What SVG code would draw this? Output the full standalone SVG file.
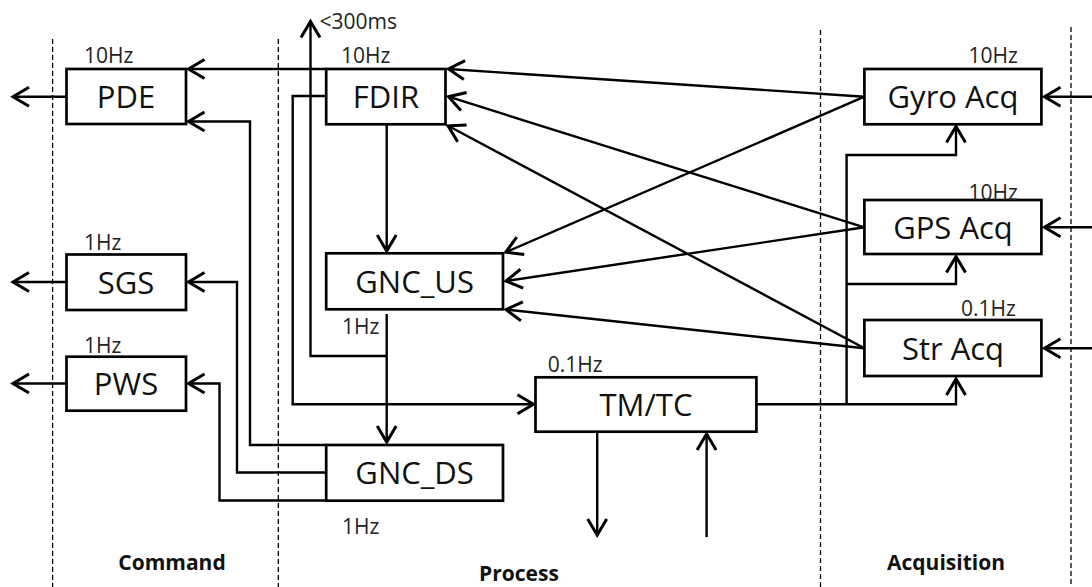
<svg xmlns="http://www.w3.org/2000/svg" width="1092" height="587" viewBox="0 0 1092 587">
<style>
.lane{stroke:#000;stroke-width:1.3;stroke-dasharray:5,3;fill:none}
.c{stroke:#000;stroke-width:2.4;fill:none}
.box{stroke:#000;stroke-width:2.7;fill:#fff}
.lbl{font-family:"Open Sans","Noto Sans","Liberation Sans",sans-serif;font-size:31px;fill:#111;text-anchor:middle}
.hz{font-family:"Open Sans","Noto Sans","Liberation Sans",sans-serif;font-size:21px;fill:#222}
.sec{font-family:"Open Sans","Noto Sans","Liberation Sans",sans-serif;font-size:21px;font-weight:bold;fill:#111;text-anchor:middle}
</style>
<defs>
<marker id="a" markerUnits="userSpaceOnUse" markerWidth="24" markerHeight="24" viewBox="-20 -12 24 24" refX="0" refY="0" orient="auto">
<path d="M-16,-9.5 L0,0 L-16,9.5" stroke="#000" stroke-width="3" fill="none" stroke-linejoin="miter"/>
</marker>
</defs>
<g id="lanes">
<line class="lane" x1="52.6" y1="39" x2="52.6" y2="587"/>
<line class="lane" x1="278.3" y1="39" x2="278.3" y2="587"/>
<line class="lane" x1="820.5" y1="30" x2="820.5" y2="587"/>
<line class="lane" x1="1071" y1="27" x2="1071" y2="587"/>
</g>
<g id="connectors">
<path class="c" d="M66.5,96.7 H13" marker-end="url(#a)"/>
<path class="c" d="M66.5,282 H13" marker-end="url(#a)"/>
<path class="c" d="M66.5,383.5 H13" marker-end="url(#a)"/>
<path class="c" d="M326,69 H188.5" marker-end="url(#a)"/>
<path class="c" d="M326,445 H250 V121.5 H188.5" marker-end="url(#a)"/>
<path class="c" d="M326,472.5 H237 V282 H188.5" marker-end="url(#a)"/>
<path class="c" d="M326,500.5 H219.5 V383.5 H188.5" marker-end="url(#a)"/>
<path class="c" d="M386.7,356 H310.5 V21.5" marker-end="url(#a)"/>
<path class="c" d="M326,96 H292.7 V404.3 H533.5" marker-end="url(#a)"/>
<path class="c" d="M386.7,124.3 V251" marker-end="url(#a)"/>
<path class="c" d="M386.7,314 V442" marker-end="url(#a)"/>
<path class="c" d="M756.4,404.3 H956 V379" marker-end="url(#a)"/>
<path class="c" d="M846.6,404.3 V155 H956 V126.5" marker-end="url(#a)"/>
<path class="c" d="M846.6,284 H956 V256.5" marker-end="url(#a)"/>
<path class="c" d="M597.2,431.7 V535" marker-end="url(#a)"/>
<path class="c" d="M706.6,537 V434" marker-end="url(#a)"/>
<path class="c" d="M1092,96.7 H1044.5" marker-end="url(#a)"/>
<path class="c" d="M1092,227.3 H1044.5" marker-end="url(#a)"/>
<path class="c" d="M1092,348.3 H1044.5" marker-end="url(#a)"/>
<path class="c" d="M864.4,96.7 L448.5,69" marker-end="url(#a)"/>
<path class="c" d="M864.4,227.3 L448.5,96.7" marker-end="url(#a)"/>
<path class="c" d="M864.4,348.3 L448,125.8" marker-end="url(#a)"/>
<path class="c" d="M864.4,96.7 L505.8,252.2" marker-end="url(#a)"/>
<path class="c" d="M864.4,227.3 L506,281" marker-end="url(#a)"/>
<path class="c" d="M864.4,348.3 L506,309.6" marker-end="url(#a)"/>
</g>
<g id="PDE"><rect class="box" x="66.5" y="69" width="119.5" height="55"/><text class="lbl" x="126" y="107.8">PDE</text><text class="hz" x="84" y="63">10Hz</text></g>
<g id="SGS"><rect class="box" x="66.5" y="254.5" width="119.5" height="55.5"/><text class="lbl" x="126" y="293.5">SGS</text><text class="hz" x="84" y="250">1Hz</text></g>
<g id="PWS"><rect class="box" x="66.5" y="356.7" width="119.5" height="54"/><text class="lbl" x="126" y="395">PWS</text><text class="hz" x="84" y="353.3">1Hz</text></g>
<g id="FDIR"><rect class="box" x="326.2" y="69" width="119.3" height="55.3"/><text class="lbl" x="386" y="107.8">FDIR</text><text class="hz" x="341" y="63">10Hz</text></g>
<g id="GNC_US"><rect class="box" x="326.2" y="253.3" width="176.8" height="56"/><text class="lbl" x="414.6" y="292.5">GNC_US</text><text class="hz" x="342" y="334">1Hz</text></g>
<g id="GNC_DS"><rect class="box" x="326.2" y="445" width="176.8" height="55.7"/><text class="lbl" x="414.6" y="484">GNC_DS</text><text class="hz" x="342" y="534">1Hz</text></g>
<g id="TMTC"><rect class="box" x="535.5" y="377.3" width="220.9" height="54.4"/><text class="lbl" x="646" y="415.6">TM/TC</text><text class="hz" x="547.7" y="371.7">0.1Hz</text></g>
<g id="GyroAcq"><rect class="box" x="864.4" y="69" width="177" height="55.3"/><text class="lbl" x="953" y="108.3">Gyro Acq</text><text class="hz" x="968.6" y="63.3">10Hz</text></g>
<g id="GPSAcq"><rect class="box" x="864.4" y="200" width="177" height="54"/><text class="lbl" x="953" y="238.5">GPS Acq</text><text class="hz" x="968.6" y="199.5">10Hz</text></g>
<g id="StrAcq"><rect class="box" x="864.4" y="320" width="177" height="56"/><text class="lbl" x="953" y="359.5">Str Acq</text><text class="hz" x="961" y="316">0.1Hz</text></g>
<g id="lanelabels">
<text class="sec" x="172" y="569.5">Command</text>
<text class="sec" x="519" y="581">Process</text>
<text class="sec" x="946" y="569.5">Acquisition</text>
<text class="hz" x="319.5" y="28.5">&lt;300ms</text>
</g>
</svg>
